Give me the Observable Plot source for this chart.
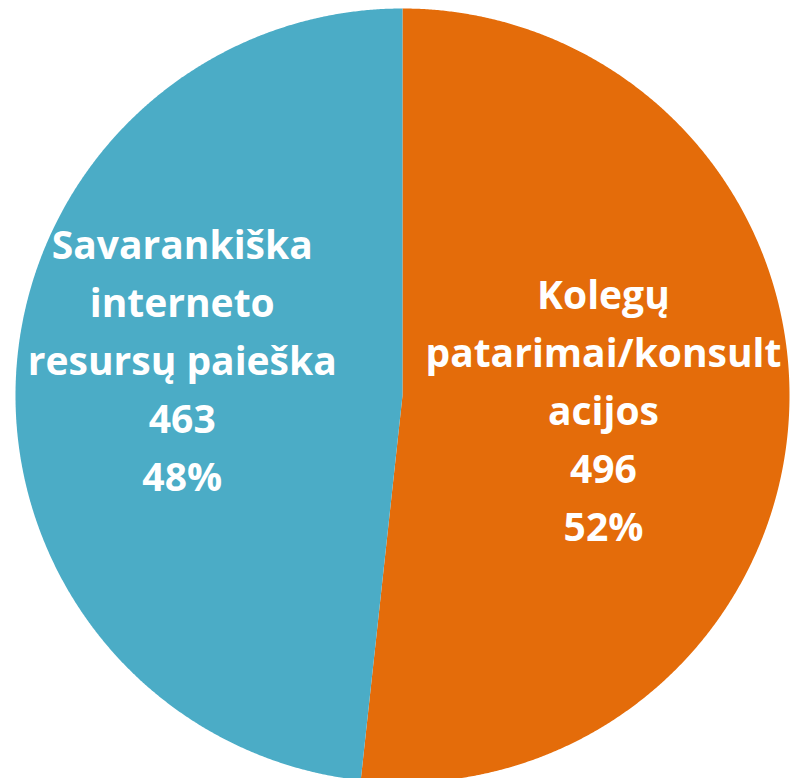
<!DOCTYPE html>
<html>
<head>
<meta charset="utf-8">
<script src="https://cdn.jsdelivr.net/npm/d3@7"></script>
<script src="https://cdn.jsdelivr.net/npm/@observablehq/plot@0.6"></script>
<style>
  html, body { margin: 0; padding: 0; background: #ffffff; }
  #chart svg { display: block; }
</style>
</head>
<body>
<div id="chart"></div>
<script>
// Data
const categories = ["Kolegų\npatarimai/konsult\nacijos", "Savarankiška\ninterneto\nresursų paieška"];
const values = [496, 463];
const percents = ["52%", "48%"];
const colors = ["#E46C0A", "#4BACC6"];

// Pie layout (clockwise from 12 o'clock)
const pie = d3.pie().sort(null).value(d => d.value).startAngle(0).endAngle(2 * Math.PI);
const arcs = pie(categories.map((c, i) => ({ key: c, value: values[i], pct: percents[i], color: colors[i] })));

// Slice polygons sampled along the arc
const polys = [];
arcs.forEach(a => {
  polys.push({ key: a.data.key, x: 0, y: 0 });
  const n = Math.max(2, Math.ceil((a.endAngle - a.startAngle) / (Math.PI / 720)));
  for (let k = 0; k <= n; k++) {
    const t = a.startAngle + (a.endAngle - a.startAngle) * k / n;
    polys.push({ key: a.data.key, x: Math.sin(t), y: Math.cos(t) });
  }
});

// Label anchors along each slice bisector
const labelR = [0.52, 0.57];
const labels = arcs.map((a, i) => {
  const m = (a.startAngle + a.endAngle) / 2;
  return {
    text: `${a.data.key}\n${a.data.value}\n${a.data.pct}`,
    x: labelR[i] * Math.sin(m),
    y: labelR[i] * Math.cos(m) + (i === 1 ? 0.07 : 0.0)
  };
});

const fontSize = 39;
const chart = Plot.plot({
  width: 790,
  height: 778,
  marginLeft: 15,
  marginRight: 1,
  marginTop: 8,
  marginBottom: 0,
  x: { domain: [-1, 1], axis: null },
  y: { domain: [1 - 770 / 387, 1], axis: null },
  color: { domain: categories, range: colors },
  style: { background: "#ffffff", overflow: "hidden" },
  marks: [
    Plot.line(polys, { x: "x", y: "y", z: "key", fill: "key", stroke: null, curve: "linear-closed" }),
    Plot.text(labels, {
      x: "x", y: "y", text: "text",
      fill: "white", fontSize, fontWeight: "bold",
      fontFamily: "'Open Sans', Lato, sans-serif",
      lineHeight: 58 / fontSize, lineAnchor: "middle", textAnchor: "middle"
    })
  ]
});
document.getElementById("chart").appendChild(chart);
</script>
</body>
</html>
